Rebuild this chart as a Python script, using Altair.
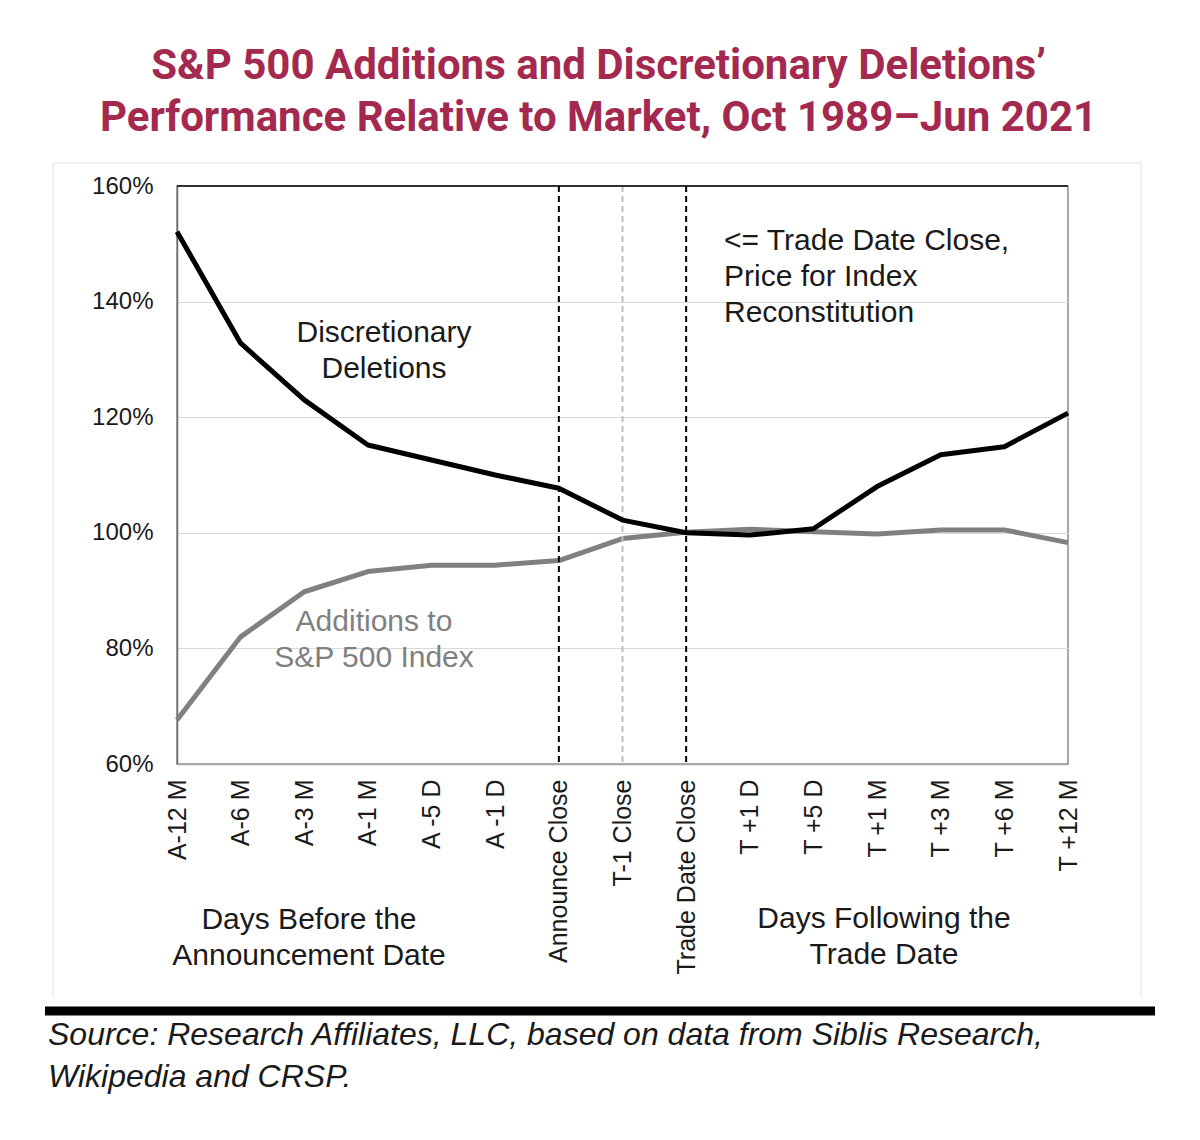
import altair as alt
import pandas as pd

# ---------------- data ----------------
categories = ["A-12 M", "A-6 M", "A-3 M", "A-1 M", "A -5 D", "A -1 D",
              "Announce Close", "T-1 Close", "Trade Date Close",
              "T +1 D", "T +5 D", "T +1 M", "T +3 M", "T +6 M", "T +12 M"]
deletions = [152.1, 132.8, 123.0, 115.2, 112.6, 110.0, 107.7, 102.2, 100.0,
             99.6, 100.7, 108.0, 113.5, 114.9, 120.7]
additions = [67.6, 82.0, 89.8, 93.3, 94.4, 94.4, 95.2, 99.0, 100.1,
             100.6, 100.2, 99.8, 100.5, 100.5, 98.3]
y_ticks = [60, 80, 100, 120, 140, 160]
marker_cats = ["Announce Close", "T-1 Close", "Trade Date Close"]
marker_colors = ["#000000", "#bdbdbd", "#000000"]

title_lines = ["S&P 500 Additions and Discretionary Deletions\u2019",
               "Performance Relative to Market, Oct 1989\u2013Jun 2021"]
label_deletions = ["Discretionary", "Deletions"]
label_additions = ["Additions to", "S&P 500 Index"]
label_trade = ["<= Trade Date Close,", "Price for Index", "Reconstitution"]
label_before = ["Days Before the", "Announcement Date"]
label_after = ["Days Following the", "Trade Date"]
source_lines = ["Source: Research Affiliates, LLC, based on data from Siblis Research,",
                "Wikipedia and CRSP."]

# ---------------- styling ----------------
W, H = 891, 578
FONT = "Liberation Sans, Arial, sans-serif"
TITLE_FONT = "Roboto, Liberation Sans, sans-serif"
TXT = "#1a1a1a"

df = pd.DataFrame({"cat": categories, "del": deletions, "add": additions})
mk = pd.DataFrame({"cat": marker_cats, "col": marker_colors})
one = pd.DataFrame({"v": [160]})

x_scale = alt.Scale(type="point", padding=0)
y_scale = alt.Scale(domain=[60, 160], nice=False, zero=False)

x_axis = alt.Axis(
    labelAngle=270, labelAlign="right", labelBaseline="middle",
    labelPadding=15, ticks=False, tickSize=0, domainColor="#a6a6a6",
    domainWidth=1.5, labelFontSize=25, labelColor=TXT, labelFont=FONT,
    labelLimit=0, grid=False,
)
y_axis = alt.Axis(
    values=y_ticks, labelExpr="datum.value + '%'", ticks=False, tickSize=0,
    labelPadding=24, domainColor="#6e6e6e", domainWidth=1.5,
    gridColor="#d9d9d9", gridWidth=1, labelFontSize=24, labelColor=TXT,
    labelFont=FONT,
)


def xenc(with_axis=False):
    if with_axis:
        return alt.X("cat:N", sort=categories, scale=x_scale, title=None,
                     axis=x_axis)
    return alt.X("cat:N", sort=categories, scale=x_scale, title=None)


def yenc(field, with_axis=False):
    if with_axis:
        return alt.Y(field, scale=y_scale, title=None, axis=y_axis)
    return alt.Y(field, scale=y_scale, title=None)


add_line = alt.Chart(df).mark_line(color="#808080", strokeWidth=5,
                                   strokeJoin="round").encode(
    x=xenc(True), y=yenc("add:Q", True))

del_line = alt.Chart(df).mark_line(color="#000000", strokeWidth=5,
                                   strokeJoin="round").encode(
    x=xenc(True), y=yenc("del:Q", True))

markers = alt.Chart(mk).mark_rule(strokeWidth=2, strokeDash=[6, 4]).encode(
    x=xenc(True), color=alt.Color("col:N", scale=None))

top_border = alt.Chart(one).mark_rule(color="#000000", strokeWidth=1.5).encode(
    y=yenc("v:Q", True))


def text_layer(lines, x, y, align="center", color=TXT, size=30,
               style="normal", lh=36):
    return alt.Chart(one).mark_text(
        text=lines, align=align, baseline="alphabetic", font=FONT,
        fontSize=size, color=color, fontStyle=style, lineHeight=lh,
    ).encode(x=alt.value(x), y=alt.value(y))


def frame_rule(x, y, x2=None, y2=None, color="#e3e3e3", width=1):
    enc = {"x": alt.value(x), "y": alt.value(y)}
    if x2 is not None:
        enc["x2"] = alt.value(x2)
    if y2 is not None:
        enc["y2"] = alt.value(y2)
    return alt.Chart(one).mark_rule(color=color, strokeWidth=width).encode(**enc)


annots = [
    text_layer(label_deletions, 207, 156),
    text_layer(label_additions, 197, 445, color="#808080"),
    text_layer(label_trade, 547, 64, align="left"),
    text_layer(label_before, 132, 743),
    text_layer(label_after, 707, 742),
    text_layer(source_lines, -129, 859, align="left", size=32,
               style="italic", lh=42),
]

frames = [
    frame_rule(-124, -23, y2=811),
    frame_rule(964, -23, y2=811),
    frame_rule(-124, -23, x2=964),
    frame_rule(-132, 825, x2=978, color="#000000", width=9),
]

chart = alt.layer(
    add_line, *frames, markers, del_line, top_border, *annots
).properties(
    width=W, height=H,
    background="white",
    padding={"left": 169, "top": 178, "right": 124, "bottom": 360},
    autosize=alt.AutoSizeParams(type="none"),
    title=alt.TitleParams(
        text=title_lines, font=TITLE_FONT, fontWeight="bold", fontSize=42,
        color="#A3294F", lineHeight=52, anchor="middle", frame="group",
        dx=-24, offset=23,
    ),
).configure_view(
    stroke="#8c8c8c", strokeWidth=1.5
)

chart.save("out.html", embed_options={"renderer": "svg", "actions": False})
